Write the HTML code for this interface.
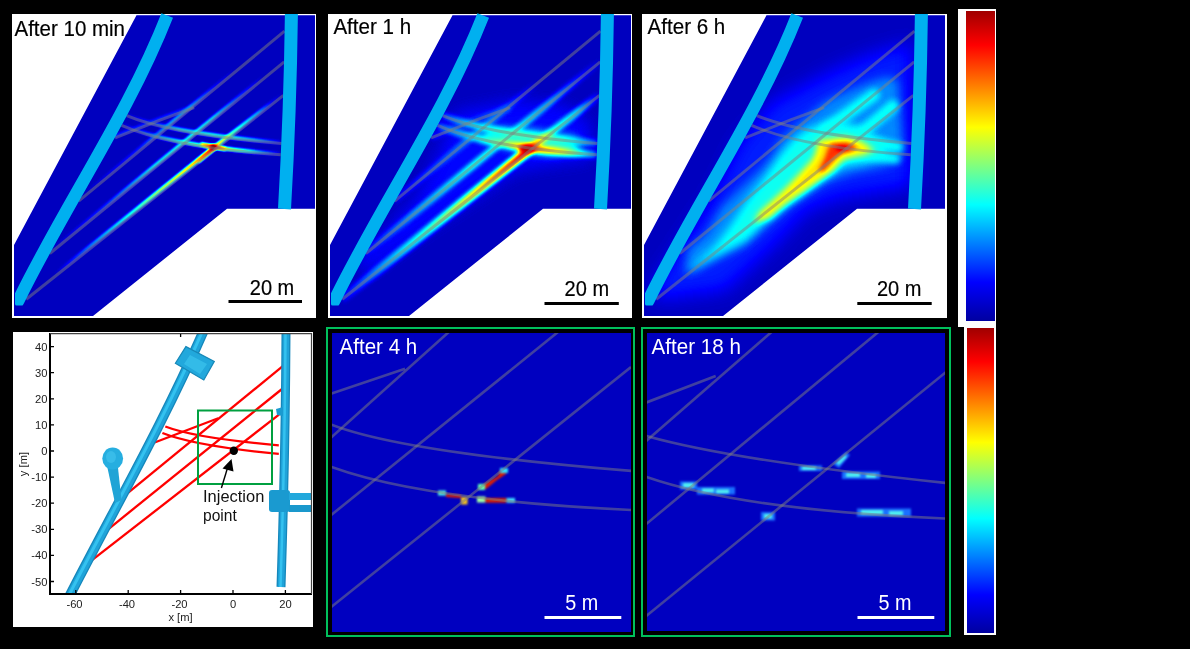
<!DOCTYPE html>
<html><head><meta charset="utf-8">
<style>
html,body{margin:0;padding:0;background:#000;width:1190px;height:649px;overflow:hidden}
svg{display:block;will-change:transform}
text{font-family:"Liberation Sans",sans-serif}
</style></head>
<body>
<svg width="1190" height="649" viewBox="0 0 1190 649">
<defs>
  <filter id="jet" color-interpolation-filters="sRGB" filterUnits="userSpaceOnUse" x="0" y="0" width="1190" height="649">
    <feComponentTransfer>
      <feFuncR type="table" tableValues="0 0 0 0 0.5 1 1 1 0.5"/>
      <feFuncG type="table" tableValues="0 0 0.5 1 1 1 0.5 0 0"/>
      <feFuncB type="table" tableValues="0.5 1 1 1 0.5 0 0 0 0"/>
    </feComponentTransfer>
  </filter>
  <filter id="b1" color-interpolation-filters="sRGB" filterUnits="userSpaceOnUse" x="-100" y="-100" width="1400" height="900"><feGaussianBlur stdDeviation="1"/></filter>
<filter id="b1_2" color-interpolation-filters="sRGB" filterUnits="userSpaceOnUse" x="-100" y="-100" width="1400" height="900"><feGaussianBlur stdDeviation="1.2"/></filter>
<filter id="b1_3" color-interpolation-filters="sRGB" filterUnits="userSpaceOnUse" x="-100" y="-100" width="1400" height="900"><feGaussianBlur stdDeviation="1.3"/></filter>
<filter id="b2" color-interpolation-filters="sRGB" filterUnits="userSpaceOnUse" x="-100" y="-100" width="1400" height="900"><feGaussianBlur stdDeviation="2"/></filter>
<filter id="b3" color-interpolation-filters="sRGB" filterUnits="userSpaceOnUse" x="-100" y="-100" width="1400" height="900"><feGaussianBlur stdDeviation="3"/></filter>
<filter id="b4" color-interpolation-filters="sRGB" filterUnits="userSpaceOnUse" x="-100" y="-100" width="1400" height="900"><feGaussianBlur stdDeviation="4"/></filter>
<filter id="b5" color-interpolation-filters="sRGB" filterUnits="userSpaceOnUse" x="-100" y="-100" width="1400" height="900"><feGaussianBlur stdDeviation="5"/></filter>
<filter id="b8" color-interpolation-filters="sRGB" filterUnits="userSpaceOnUse" x="-100" y="-100" width="1400" height="900"><feGaussianBlur stdDeviation="8"/></filter>
<filter id="b9" color-interpolation-filters="sRGB" filterUnits="userSpaceOnUse" x="-100" y="-100" width="1400" height="900"><feGaussianBlur stdDeviation="9"/></filter>
  <linearGradient id="jetv" x1="0" y1="0" x2="0" y2="1">
    <stop offset="0" stop-color="#a00000"/>
    <stop offset="0.11" stop-color="#ff0000"/>
    <stop offset="0.375" stop-color="#ffff00"/>
    <stop offset="0.625" stop-color="#00ffff"/>
    <stop offset="0.875" stop-color="#0000ff"/>
    <stop offset="1" stop-color="#0000a0"/>
  </linearGradient>
  <linearGradient id="gr1" gradientUnits="userSpaceOnUse" x1="78.6" y1="201.1" x2="284.5" y2="31.2"><stop offset="0" stop-color="rgb(16,16,16)"/><stop offset="0.3" stop-color="rgb(41,41,41)"/><stop offset="0.45" stop-color="rgb(76,76,76)"/><stop offset="0.55" stop-color="rgb(71,71,71)"/><stop offset="0.68" stop-color="rgb(31,31,31)"/><stop offset="0.78" stop-color="rgb(16,16,16)"/><stop offset="1" stop-color="rgb(16,16,16)"/></linearGradient><linearGradient id="gr2" gradientUnits="userSpaceOnUse" x1="49.8" y1="253.5" x2="284.2" y2="61.9"><stop offset="0" stop-color="rgb(16,16,16)"/><stop offset="0.25" stop-color="rgb(46,46,46)"/><stop offset="0.45" stop-color="rgb(97,97,97)"/><stop offset="0.6" stop-color="rgb(105,105,105)"/><stop offset="0.7" stop-color="rgb(92,92,92)"/><stop offset="0.8" stop-color="rgb(51,51,51)"/><stop offset="0.92" stop-color="rgb(16,16,16)"/><stop offset="1" stop-color="rgb(16,16,16)"/></linearGradient><linearGradient id="gr3" gradientUnits="userSpaceOnUse" x1="126.7" y1="0" x2="281.7" y2="0"><stop offset="0" stop-color="rgb(20,20,20)"/><stop offset="0.2" stop-color="rgb(51,51,51)"/><stop offset="0.35" stop-color="rgb(92,92,92)"/><stop offset="0.55" stop-color="rgb(107,107,107)"/><stop offset="0.7" stop-color="rgb(102,102,102)"/><stop offset="0.85" stop-color="rgb(76,76,76)"/><stop offset="1" stop-color="rgb(31,31,31)"/></linearGradient><linearGradient id="gr4" gradientUnits="userSpaceOnUse" x1="121.6" y1="0" x2="280.8" y2="0"><stop offset="0" stop-color="rgb(20,20,20)"/><stop offset="0.2" stop-color="rgb(64,64,64)"/><stop offset="0.38" stop-color="rgb(107,107,107)"/><stop offset="0.5" stop-color="rgb(133,133,133)"/><stop offset="0.585" stop-color="rgb(230,230,230)"/><stop offset="0.68" stop-color="rgb(158,158,158)"/><stop offset="0.8" stop-color="rgb(112,112,112)"/><stop offset="0.9" stop-color="rgb(66,66,66)"/><stop offset="1" stop-color="rgb(26,26,26)"/></linearGradient><linearGradient id="gr5" gradientUnits="userSpaceOnUse" x1="214.5" y1="149" x2="55" y2="276"><stop offset="0" stop-color="rgb(235,235,235)"/><stop offset="0.1" stop-color="rgb(204,204,204)"/><stop offset="0.2" stop-color="rgb(173,173,173)"/><stop offset="0.35" stop-color="rgb(148,148,148)"/><stop offset="0.5" stop-color="rgb(112,112,112)"/><stop offset="0.75" stop-color="rgb(69,69,69)"/><stop offset="1" stop-color="rgb(16,16,16)"/></linearGradient><linearGradient id="gr6" gradientUnits="userSpaceOnUse" x1="214.5" y1="149" x2="283.4" y2="95.4"><stop offset="0" stop-color="rgb(209,209,209)"/><stop offset="0.2" stop-color="rgb(140,140,140)"/><stop offset="0.4" stop-color="rgb(107,107,107)"/><stop offset="0.65" stop-color="rgb(76,76,76)"/><stop offset="0.85" stop-color="rgb(31,31,31)"/><stop offset="1" stop-color="rgb(16,16,16)"/></linearGradient><linearGradient id="gr7" gradientUnits="userSpaceOnUse" x1="202" y1="145.3" x2="227" y2="150.5"><stop offset="0" stop-color="rgb(158,158,158)"/><stop offset="0.5" stop-color="rgb(230,230,230)"/><stop offset="1" stop-color="rgb(168,168,168)"/></linearGradient><linearGradient id="gr8" gradientUnits="userSpaceOnUse" x1="216" y1="149" x2="199" y2="163"><stop offset="0" stop-color="rgb(230,230,230)"/><stop offset="1" stop-color="rgb(178,178,178)"/></linearGradient><linearGradient id="gr9" gradientUnits="userSpaceOnUse" x1="115" y1="0" x2="194" y2="0"><stop offset="0" stop-color="rgb(36,36,36)"/><stop offset="1" stop-color="rgb(56,56,56)"/></linearGradient><linearGradient id="gr10" gradientUnits="userSpaceOnUse" x1="78.6" y1="201.1" x2="284.5" y2="31.2"><stop offset="0" stop-color="rgb(31,31,31)"/><stop offset="0.3" stop-color="rgb(61,61,61)"/><stop offset="0.45" stop-color="rgb(76,76,76)"/><stop offset="0.58" stop-color="rgb(46,46,46)"/><stop offset="0.7" stop-color="rgb(16,16,16)"/><stop offset="1" stop-color="rgb(16,16,16)"/></linearGradient><linearGradient id="gr11" gradientUnits="userSpaceOnUse" x1="49.8" y1="253.5" x2="284.2" y2="61.9"><stop offset="0" stop-color="rgb(36,36,36)"/><stop offset="0.2" stop-color="rgb(76,76,76)"/><stop offset="0.45" stop-color="rgb(112,112,112)"/><stop offset="0.65" stop-color="rgb(107,107,107)"/><stop offset="0.8" stop-color="rgb(76,76,76)"/><stop offset="0.92" stop-color="rgb(38,38,38)"/><stop offset="1" stop-color="rgb(20,20,20)"/></linearGradient><linearGradient id="gr12" gradientUnits="userSpaceOnUse" x1="126.7" y1="0" x2="281.7" y2="0"><stop offset="0" stop-color="rgb(51,51,51)"/><stop offset="0.2" stop-color="rgb(97,97,97)"/><stop offset="0.5" stop-color="rgb(117,117,117)"/><stop offset="0.75" stop-color="rgb(112,112,112)"/><stop offset="0.9" stop-color="rgb(87,87,87)"/><stop offset="1" stop-color="rgb(51,51,51)"/></linearGradient><linearGradient id="gr13" gradientUnits="userSpaceOnUse" x1="121.6" y1="0" x2="280.8" y2="0"><stop offset="0" stop-color="rgb(51,51,51)"/><stop offset="0.25" stop-color="rgb(102,102,102)"/><stop offset="0.42" stop-color="rgb(133,133,133)"/><stop offset="0.52" stop-color="rgb(184,184,184)"/><stop offset="0.585" stop-color="rgb(242,242,242)"/><stop offset="0.66" stop-color="rgb(191,191,191)"/><stop offset="0.8" stop-color="rgb(158,158,158)"/><stop offset="0.9" stop-color="rgb(115,115,115)"/><stop offset="1" stop-color="rgb(61,61,61)"/></linearGradient><linearGradient id="gr14" gradientUnits="userSpaceOnUse" x1="214.5" y1="149" x2="30" y2="296"><stop offset="0" stop-color="rgb(242,242,242)"/><stop offset="0.08" stop-color="rgb(219,219,219)"/><stop offset="0.2" stop-color="rgb(194,194,194)"/><stop offset="0.35" stop-color="rgb(158,158,158)"/><stop offset="0.55" stop-color="rgb(115,115,115)"/><stop offset="0.75" stop-color="rgb(84,84,84)"/><stop offset="1" stop-color="rgb(36,36,36)"/></linearGradient><linearGradient id="gr15" gradientUnits="userSpaceOnUse" x1="214.5" y1="149" x2="283.4" y2="95.4"><stop offset="0" stop-color="rgb(230,230,230)"/><stop offset="0.15" stop-color="rgb(168,168,168)"/><stop offset="0.35" stop-color="rgb(117,117,117)"/><stop offset="0.7" stop-color="rgb(92,92,92)"/><stop offset="0.9" stop-color="rgb(46,46,46)"/><stop offset="1" stop-color="rgb(26,26,26)"/></linearGradient>
  <clipPath id="poly"><path d="M136.5,15.3 L315,15.3 L315,208.8 L227,208.8 L93,316 L14,316 L14,245 Z"/></clipPath>
  <clipPath id="rodclip"><rect x="15" y="0" width="301" height="305.5" rx="1.5"/></clipPath>
  <g id="lines1" fill="none" stroke="rgb(128,128,128)" stroke-opacity="0.5" stroke-width="3">
    <path d="M284.5,31.2 L78.6,201.1"/>
    <path d="M284.2,61.9 L49.8,253.5"/>
    <path d="M283.4,95.4 L26.2,299.3"/>
    <path d="M115.1,137.9 L160,120.2 L194.1,107.6"/>
    <path d="M126.7,115.6 Q170,134 281.7,143.6"/>
    <path d="M121.6,125.3 Q172,147.5 280.8,154.8"/>
  </g>
  <g id="rods1" fill="none" stroke="#00b0f0" stroke-width="12.5">
    <path clip-path="url(#rodclip)" d="M167.2,15.5 C127.87,115.26 65.55,203.93 18.6,300 L7,321" stroke-linejoin="round"/>
    <path d="M291.4,14 Q290.2,111.5 284.5,209" stroke-width="13"/>
  </g>
</defs>

<g transform="translate(0,0)">
  <rect x="12" y="14" width="304" height="304" fill="#fff"/>
  <g clip-path="url(#poly)"><g filter="url(#jet)" style="isolation:isolate">
    <rect x="12" y="14" width="304" height="304" fill="rgb(16,16,16)"/>
    <g transform="translate(-1.2,-1.2)"><path d="M115.1,137.9 L160,120.2 L194.1,107.6" fill="none" stroke="rgb(43,43,43)" stroke-width="3.6" filter="url(#b1_2)" style="mix-blend-mode:lighten" />
<path d="M284.5,31.2 L78.6,201.1" fill="none" stroke="url(#gr1)" stroke-width="3.6" filter="url(#b1_2)" style="mix-blend-mode:lighten" />
<path d="M284.2,61.9 L49.8,253.5" fill="none" stroke="url(#gr2)" stroke-width="3.6" filter="url(#b1_2)" style="mix-blend-mode:lighten" />
<path d="M126.7,115.6 Q170,134 281.7,143.6" fill="none" stroke="url(#gr3)" stroke-width="3.6" filter="url(#b1_2)" style="mix-blend-mode:lighten" />
<path d="M121.6,125.3 Q172,147.5 280.8,154.8" fill="none" stroke="url(#gr4)" stroke-width="3.6" filter="url(#b1_2)" style="mix-blend-mode:lighten" />
<path d="M214.5,149 L26.2,299.3" fill="none" stroke="url(#gr5)" stroke-width="3.6" filter="url(#b1_2)" style="mix-blend-mode:lighten" />
<path d="M214.5,149 L283.4,95.4" fill="none" stroke="url(#gr6)" stroke-width="3.6" filter="url(#b1_2)" style="mix-blend-mode:lighten" />
<path d="M202,145.3 L227,150.5" fill="none" stroke="url(#gr7)" stroke-width="3.6" filter="url(#b1_2)" style="mix-blend-mode:lighten" />
<path d="M216,149 L199,163" fill="none" stroke="url(#gr8)" stroke-width="3.6" filter="url(#b1_2)" style="mix-blend-mode:lighten" />
<circle cx="214.5" cy="148.5" r="3" fill="rgb(255,255,255)" filter="url(#b1_3)" style="mix-blend-mode:lighten"/></g>
  </g></g>
  <use href="#lines1"/>
  <use href="#rods1"/>
  <text x="14.5" y="35.7" font-size="21.8" textLength="110.5" lengthAdjust="spacingAndGlyphs" fill="#000" stroke="#000" stroke-width="0.2">After 10 min</text>
  <text x="249.8" y="294.6" font-size="21.2" textLength="44.5" lengthAdjust="spacingAndGlyphs" fill="#000" stroke="#000" stroke-width="0.2">20 m</text>
  <rect x="228.5" y="300" width="73.5" height="3" fill="#000"/>
</g>

<g transform="translate(316,0)">
  <rect x="12" y="14" width="304" height="304" fill="#fff"/>
  <g clip-path="url(#poly)"><g filter="url(#jet)" style="isolation:isolate">
    <rect x="12" y="14" width="304" height="304" fill="rgb(16,16,16)"/>
    <g transform="translate(-0.3,-0.3)"><path d="M140,112 L200,100 L250,105 L275,125 L275,160 L240,165 L200,172 L120,225 L50,275 L40,262 L100,200 L125,150 Z" fill="rgb(33,33,33)" filter="url(#b8)" style="mix-blend-mode:lighten"/>
<path d="M170,128 L215,130 L262,138 L264,153 L235,156 L205,152 L165,140 Z" fill="rgb(102,102,102)" filter="url(#b4)" style="mix-blend-mode:lighten"/>
<path d="M115.1,137.9 L160,120.2 L194.1,107.6" fill="none" stroke="url(#gr9)" stroke-width="6.5" filter="url(#b2)" style="mix-blend-mode:lighten" />
<path d="M284.5,31.2 L78.6,201.1" fill="none" stroke="url(#gr10)" stroke-width="6.5" filter="url(#b2)" style="mix-blend-mode:lighten" />
<path d="M284.2,61.9 L49.8,253.5" fill="none" stroke="url(#gr11)" stroke-width="6.5" filter="url(#b2)" style="mix-blend-mode:lighten" />
<path d="M126.7,115.6 Q170,134 281.7,143.6" fill="none" stroke="url(#gr12)" stroke-width="6.5" filter="url(#b2)" style="mix-blend-mode:lighten" />
<path d="M121.6,125.3 Q172,147.5 280.8,154.8" fill="none" stroke="url(#gr13)" stroke-width="7" filter="url(#b2)" style="mix-blend-mode:lighten" />
<path d="M214.5,149 L26.2,299.3" fill="none" stroke="url(#gr14)" stroke-width="8.5" filter="url(#b2)" style="mix-blend-mode:lighten" />
<path d="M214.5,149 L283.4,95.4" fill="none" stroke="url(#gr15)" stroke-width="7" filter="url(#b2)" style="mix-blend-mode:lighten" />
<ellipse cx="211" cy="149" rx="8" ry="3.5" fill="rgb(242,242,242)" filter="url(#b2)" style="mix-blend-mode:lighten"/></g>
  </g></g>
  <use href="#lines1"/>
  <use href="#rods1"/>
  <text x="17.4" y="33.7" font-size="21.8" textLength="77.7" lengthAdjust="spacingAndGlyphs" fill="#000" stroke="#000" stroke-width="0.2">After 1 h</text>
  <text x="248.6" y="295.9" font-size="21.2" textLength="44.5" lengthAdjust="spacingAndGlyphs" fill="#000" stroke="#000" stroke-width="0.2">20 m</text>
  <rect x="228.5" y="302" width="74.3" height="3" fill="#000"/>
</g>

<g transform="translate(630,0)">
  <rect x="12" y="14" width="305" height="304" fill="#fff"/>
  <g clip-path="url(#poly)"><g filter="url(#jet)" style="isolation:isolate">
    <rect x="12" y="14" width="304" height="304" fill="rgb(16,16,16)"/>
    <g transform="translate(0,0)"><path d="M108,142 L140.8,102 L171.6,86 L202.4,70 L240,54 L282,42 L282,187 L267.7,189.3 L210,198.6 L177.1,211.6 L145,246 L95.8,290.9 L30,300 L20,290 L82,195 Z" fill="rgb(23,23,23)" filter="url(#b9)" style="mix-blend-mode:plus-lighter"/>
<path d="M142,155 L152,138 L168,124 L194.7,102 L217.9,91 L240,82 L256.2,77 L268,80 L272.4,136.2 L274,152 L256,166 L222,173 L196,182 L160,206 L122,238 L85.7,256 L55,274 L57.4,249.7 L76.5,234 L91.6,207 L118.6,180.8 L132,168 Z" fill="rgb(27,27,27)" filter="url(#b5)" style="mix-blend-mode:plus-lighter"/>
<path d="M150,155 L163,140 L178,129 L198,123 L215,122 L232,128 L248,138 L258,146 L256,156 L233,163 L212,166 L196,177 L156.3,201.6 L134.7,223.1 L115.3,244.7 L62,272 L57.4,271.7 L86.2,244.7 L102.4,223.1 L116.4,201.6 L132.4,180.8 Z" fill="rgb(33,33,33)" filter="url(#b4)" style="mix-blend-mode:plus-lighter"/>
<path d="M194,130 L244,95" fill="none" stroke="rgb(99,99,99)" stroke-width="12" stroke-linecap="round" filter="url(#b3)" style="mix-blend-mode:lighten"/>
<path d="M220,142 L263,106" fill="none" stroke="rgb(99,99,99)" stroke-width="12" stroke-linecap="round" filter="url(#b3)" style="mix-blend-mode:lighten"/>
<path d="M232,142 Q255,144 268,147" fill="none" stroke="rgb(99,99,99)" stroke-width="10" stroke-linecap="round" filter="url(#b3)" style="mix-blend-mode:lighten"/>
<path d="M232,155 Q255,157 266,159" fill="none" stroke="rgb(99,99,99)" stroke-width="9" stroke-linecap="round" filter="url(#b3)" style="mix-blend-mode:lighten"/>
<path d="M188,141 L193.1,139.4 L216.3,137 L232,141.7 L244.5,150.4 L232,155 L214,159 L203,172 L186,184.5 L171,196 L152,209.5 L140,219 L124,223 L130,212 L140,203 L155,189 L167,176.5 L182,160 L186,152 Z" fill="rgb(66,66,66)" filter="url(#b3)" style="mix-blend-mode:plus-lighter"/>
<path d="M202,143 L218,142.5 L227,147 L222,151 L213,152.5 L205,158.5 L194,171 L188,171 L195,157 L198,148 Z" fill="rgb(46,46,46)" filter="url(#b2)" style="mix-blend-mode:plus-lighter"/>
<ellipse cx="212" cy="148.5" rx="6" ry="2.8" fill="rgb(31,31,31)" filter="url(#b2)" style="mix-blend-mode:plus-lighter"/></g>
  </g></g>
  <use href="#lines1"/>
  <use href="#rods1"/>
  <text x="17.6" y="33.7" font-size="21.8" textLength="77.7" lengthAdjust="spacingAndGlyphs" fill="#000" stroke="#000" stroke-width="0.2">After 6 h</text>
  <text x="246.9" y="295.9" font-size="21.2" textLength="44.5" lengthAdjust="spacingAndGlyphs" fill="#000" stroke="#000" stroke-width="0.2">20 m</text>
  <rect x="227.3" y="302" width="74.4" height="3" fill="#000"/>
</g>

<!-- colorbars -->
<rect x="958" y="9" width="38" height="318" fill="#fff"/>
<rect x="966" y="11" width="29" height="310" fill="url(#jetv)"/>
<rect x="964" y="327" width="32" height="308" fill="#fff"/>
<rect x="967" y="328" width="27" height="305" fill="url(#jetv)"/>

<!-- ===== bottom-left plot ===== -->
<rect x="13" y="332" width="300" height="295" fill="#fff"/>
<defs>
  <clipPath id="axclip"><rect x="51" y="334" width="260" height="259"/></clipPath>
  <linearGradient id="tube" gradientUnits="objectBoundingBox" x1="0" y1="0" x2="1" y2="0">
    <stop offset="0" stop-color="#1480b0"/><stop offset="0.4" stop-color="#2ec8f5"/><stop offset="1" stop-color="#0f6f9c"/>
  </linearGradient>
</defs>
<g clip-path="url(#axclip)">
  <!-- red lines -->
  <g fill="none" stroke="#ff0000" stroke-width="2.3">
    <path d="M124,496.2 L283.7,365.3"/>
    <path d="M105,531.8 L282,389"/>
    <path d="M87.5,563.7 L279,414.6"/>
    <path d="M150,444.3 L218.2,418.2"/>
    <path d="M165.3,426.5 Q195,438 278.8,445.3"/>
    <path d="M162.4,433 Q195,446 278.8,453.9"/>
  </g>
  <!-- left rod -->
  <path d="M204,330 C164.05,422.06 114.19,508.85 68.5,598" fill="none" stroke="#1587bb" stroke-width="10"/>
  <path d="M204,330 C164.05,422.06 114.19,508.85 68.5,598" fill="none" stroke="#1fa3d9" stroke-width="7.5"/>
  <path d="M203,330 C163.05,422.06 113.19,508.85 67.5,598" fill="none" stroke="#34c2f0" stroke-width="3"/>
  <!-- cylinder -->
  <path d="M185.9,346.6 L214.3,361.4 L203.8,380 L175.4,363.3 Z" fill="#22a8dc" stroke="#1788b8" stroke-width="1.2"/>
  <path d="M190,355 L207,364 L200,374 L184,364 Z" fill="#40c8f0" opacity="0.6"/>
  <!-- mushroom -->
  <path d="M107.5,468 L118,468 L121.5,500 L115,503 Z" fill="#20a4d6"/>
  <ellipse cx="112.7" cy="458.5" rx="10.4" ry="11" fill="#26aee0"/>
  <ellipse cx="111" cy="457" rx="5" ry="6" fill="#44c4ee" opacity="0.6"/>
  <!-- right rod -->
  <path d="M286,330 Q285.5,450 281,587" fill="none" stroke="#1587bb" stroke-width="9"/>
  <path d="M286,330 Q285.5,450 281,587" fill="none" stroke="#1fa3d9" stroke-width="6.5"/>
  <path d="M285.5,330 Q285,450 280.5,587" fill="none" stroke="#34c2f0" stroke-width="2.5"/>
  <rect x="269" y="490" width="21" height="22" rx="3" fill="#1a9ad0"/>
  <rect x="289" y="493" width="24" height="7" fill="#22a8dc"/>
  <rect x="289" y="505" width="24" height="7" fill="#1a98cc"/>
  <path d="M276,409 L283,407 L283,416 L277,415 Z" fill="#1a9ad0"/>
  <!-- green box, dot, arrow -->
  <rect x="198" y="410.5" width="74" height="73.5" fill="none" stroke="#00a040" stroke-width="2"/>
  <circle cx="233.8" cy="450.8" r="4.2" fill="#000"/>
  <path d="M221.4,488 L227.5,468" stroke="#000" stroke-width="1.4" fill="none"/>
  <path d="M231.5,459 L222.5,468.5 L233.5,471.5 Z" fill="#000"/>
</g>
<!-- axes -->
<path d="M50,333 L50,595 M49,594 L312,594" stroke="#000" stroke-width="2" fill="none"/>
<path d="M50,333.6 L311.5,333.6 L311.5,594" stroke="#444" stroke-width="1.2" fill="none"/>
<g stroke="#000" stroke-width="1.3">
  <path d="M51,346.6 h3 M51,372.7 h3 M51,398.8 h3 M51,424.9 h3 M51,451 h3 M51,477.1 h3 M51,503.2 h3 M51,529.3 h3 M51,555.4 h3 M51,581.5 h3"/>
  <path d="M75.8,593 v-3 M128.2,593 v-3 M180.6,593 v-3 M233,593 v-3 M285.4,593 v-3"/>
  <path d="M180.6,334 v3"/>
</g>
<g font-size="11.2" fill="#222" text-anchor="end">
  <text x="47.5" y="350.6">40</text>
  <text x="47.5" y="376.7">30</text>
  <text x="47.5" y="402.8">20</text>
  <text x="47.5" y="428.9">10</text>
  <text x="47.5" y="455">0</text>
  <text x="47.5" y="481.1">-10</text>
  <text x="47.5" y="507.2">-20</text>
  <text x="47.5" y="533.3">-30</text>
  <text x="47.5" y="559.4">-40</text>
  <text x="47.5" y="585.5">-50</text>
</g>
<g font-size="11.2" fill="#222" text-anchor="middle">
  <text x="74.5" y="607.5">-60</text>
  <text x="127" y="607.5">-40</text>
  <text x="179.5" y="607.5">-20</text>
  <text x="233" y="607.5">0</text>
  <text x="285.4" y="607.5">20</text>
  <text x="180.5" y="620.5">x [m]</text>
  <text transform="translate(26.5,464) rotate(-90)" x="0" y="0">y [m]</text>
</g>
<text x="203" y="502.4" font-size="16.5" fill="#111" textLength="61.3" lengthAdjust="spacingAndGlyphs">Injection</text>
<text x="203" y="521.1" font-size="16.5" fill="#111" textLength="33.8" lengthAdjust="spacingAndGlyphs">point</text>

<!-- ===== bottom middle panel ===== -->
<rect x="327" y="328" width="307" height="308" fill="none" stroke="#00c05c" stroke-width="2"/>
<rect x="332" y="333" width="299" height="299" fill="#0000c0"/>
<defs><clipPath id="bm"><rect x="332" y="333" width="299" height="299"/></clipPath>
<clipPath id="br"><rect x="647" y="333" width="298" height="298"/></clipPath></defs>
<g clip-path="url(#bm)">
  <g filter="url(#b1)">
    <path d="M479,486 L486,483 L498,476 L500,470 L507,468.5 L506,474 L497,480 L486,489 L480,490 Z" fill="#dd2000"/>
    <rect x="500" y="468" width="8" height="5" fill="#30e0ff"/>
    <rect x="478" y="484" width="7" height="6" fill="#60ffb0"/>
    <rect x="438" y="490.5" width="8" height="5" fill="#50f0e0"/>
    <path d="M446,494 L461,495 L461,498 L446,497 Z" fill="#e02000"/>
    <rect x="461" y="497" width="6.5" height="7.5" fill="#f0c020"/>
    <rect x="477" y="496.5" width="8.5" height="6" fill="#a0ffa0"/>
    <rect x="485.5" y="498" width="21" height="4.7" fill="#d82000"/>
    <rect x="506.5" y="498" width="8.5" height="4.7" fill="#40e0ff"/>
  </g>
  <g fill="none" stroke="rgb(128,128,128)" stroke-opacity="0.5" stroke-width="2.6">
    <path d="M330,438.5 L448.8,332"/>
    <path d="M330,394 L405,368.7"/>
    <path d="M330,516 L558,332"/>
    <path d="M330,608 L631,367"/>
    <path d="M330,424 Q400,452 632,471"/>
    <path d="M330,466.5 Q420,500 632,510"/>
  </g>
</g>
<text x="339.6" y="353.8" font-size="21.8" fill="#fff" textLength="77.6" lengthAdjust="spacingAndGlyphs">After 4 h</text>
<text x="565.3" y="610" font-size="21.8" fill="#fff" textLength="33" lengthAdjust="spacingAndGlyphs">5 m</text>
<rect x="544.5" y="616" width="76.8" height="3" fill="#fff"/>

<!-- ===== bottom right panel ===== -->
<rect x="642" y="328" width="308" height="308" fill="none" stroke="#00c05c" stroke-width="2"/>
<rect x="647" y="333" width="298" height="298" fill="#0000c0"/>
<g clip-path="url(#br)">
  <g filter="url(#b1)">
    <g fill="#1a70ff">
      <rect x="680" y="481.5" width="17" height="8"/>
      <rect x="697" y="487" width="38" height="7.5"/>
      <rect x="761" y="512" width="14" height="8.5"/>
      <rect x="799" y="465.5" width="23" height="5.5"/>
      <path d="M833,464 L846,452 L850,455 L839,468 Z"/>
      <rect x="842" y="471.5" width="38" height="7.5"/>
      <rect x="857" y="508.5" width="54" height="8"/>
    </g>
    <g fill="#50f0f0">
      <rect x="683" y="483" width="11" height="4.5"/>
      <rect x="702" y="488.5" width="12" height="4"/><rect x="716" y="489.5" width="13" height="4"/>
      <rect x="764" y="514" width="8" height="4.5"/>
      <rect x="802" y="466.5" width="14" height="3.5"/>
      <path d="M836,463 L845,455 L847,457 L839,465 Z"/>
      <rect x="846" y="473" width="14" height="4"/><rect x="866" y="474" width="10" height="4"/>
      <rect x="861" y="510" width="22" height="4.5"/><rect x="889" y="511" width="14" height="4.5"/>
    </g>
  </g>
  <g fill="none" stroke="rgb(128,128,128)" stroke-opacity="0.5" stroke-width="2.6">
    <path d="M645,403 L715.7,376"/>
    <path d="M645,442 L771.5,332"/>
    <path d="M645,525 L878.3,332"/>
    <path d="M645,617 L946,372"/>
    <path d="M645,435.5 Q730,460 946,483"/>
    <path d="M645,476.5 Q740,510 946,518.5"/>
  </g>
</g>
<text x="651.6" y="354" font-size="21.8" fill="#fff" textLength="89.3" lengthAdjust="spacingAndGlyphs">After 18 h</text>
<text x="878.5" y="610" font-size="21.8" fill="#fff" textLength="33" lengthAdjust="spacingAndGlyphs">5 m</text>
<rect x="857.5" y="616" width="76.8" height="3" fill="#fff"/>

</svg>
</body></html>
